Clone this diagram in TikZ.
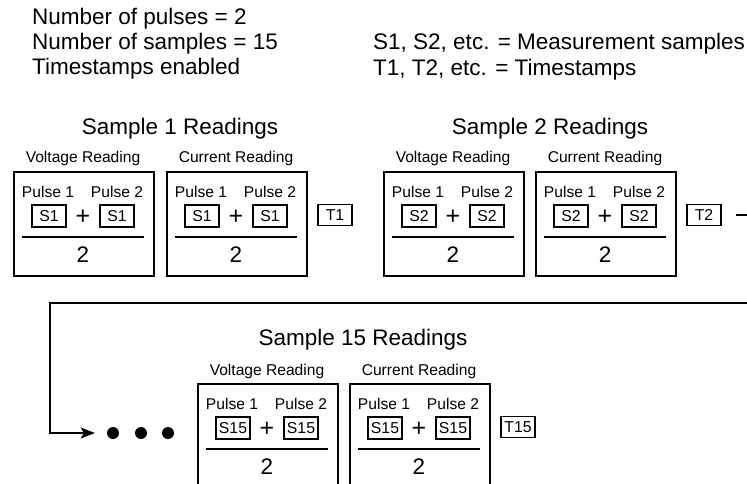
\documentclass[tikz,border=0pt]{standalone}
\usepackage{fontspec}
\setmainfont{Liberation Sans}
\usetikzlibrary{arrows.meta,calc}
\tikzset{
  rbox/.style={draw, line width=1.5pt, minimum width=140pt, minimum height=104pt, anchor=north west, inner sep=0pt},
  sbox/.style={draw, line width=1.3pt, minimum width=34pt, minimum height=22pt, inner sep=3pt, font=\fontsize{15.8}{18}\selectfont},
  tbox/.style={draw, line width=1.3pt, minimum width=34pt, minimum height=21pt, inner sep=3pt, font=\fontsize{15.8}{18}\selectfont},
  small/.style={anchor=base, inner sep=0pt, font=\fontsize{15.6}{18}\selectfont},
  big/.style={anchor=base, inner sep=0pt, font=\fontsize{22.5}{27}\selectfont},
  topt/.style={anchor=base west, inner sep=0pt, font=\fontsize{22.5}{27}\selectfont},
  plus/.style={inner sep=0pt, font=\fontsize{25}{28}\selectfont},
  fracline/.style={line width=2pt},
  dot/.style={circle, fill=black, minimum size=12pt, inner sep=0pt},
  conn/.style={line width=1.5pt}
}
\newcommand{\rdg}[5]{%
  \node[rbox] (#1) at (#2,#3) {};
  \node[small] (#1h) at ({#2+70},{#3-8}) {#5};
  \node[small] (#1pa) at ({#2+35},{#3+26}) {Pulse 1};
  \node[small] (#1pb) at ({#2+104},{#3+26}) {Pulse 2};
  \node[sbox] (#1sa) at ({#2+36},{#3+45}) {#4};
  \node[sbox] (#1sb) at ({#2+104},{#3+45}) {#4};
  \node[plus] (#1plus) at ({#2+70},{#3+46}) {+};
  \draw[fracline] ({#2+9},{#3+66}) -- ({#2+131},{#3+66});
  \node[big] (#1two) at ({#2+70},{#3+91}) {2};
}
\begin{document}
\begin{tikzpicture}[x=1pt,y=-1pt]
\useasboundingbox (0,0) rectangle (747,484);
\clip (0,0) rectangle (747,484);
% legend text
\node[topt] (l1) at (32,25) {Number of pulses = 2};
\node[topt] (l2) at (32,50) {Number of samples = 15};
\node[topt] (l3) at (32,75) {Timestamps enabled};
\node[topt] (r1) at (373,50) {S1, S2, etc. = Measurement samples};
\node[topt] (r2) at (373,76) {T1, T2, etc. = Timestamps};
% sample 1
\node[big] (t1h) at (180,135) {Sample 1 Readings};
\rdg{va}{13}{171}{S1}{Voltage Reading}
\rdg{ca}{166}{171}{S1}{Current Reading}
\node[tbox] (T1) at (335,215) {T1};
% sample 2
\node[big] (t2h) at (550,135) {Sample 2 Readings};
\rdg{vb}{383}{171}{S2}{Voltage Reading}
\rdg{cb}{535}{171}{S2}{Current Reading}
\node[tbox] (T2) at (704,215) {T2};
% sample 15
\node[big] (t3h) at (363,345) {Sample 15 Readings};
\rdg{vc}{197}{383}{S15}{Voltage Reading}
\rdg{cc}{349}{383}{S15}{Current Reading}
\node[tbox] (T15) at (518,427) {T15};
% dots
\node[dot] (d1) at (113,433) {};
\node[dot] (d2) at (141,433) {};
\node[dot] (d3) at (168,433) {};
% connector
\draw[conn, -{Stealth[length=14pt,width=11pt,inset=3pt]}]
  ([xshift=14pt]T2.east) -- (770,215) -- (770,303) -- (50,303) -- (50,433) -- ([xshift=-12pt]d1.west);
\end{tikzpicture}
\end{document}
